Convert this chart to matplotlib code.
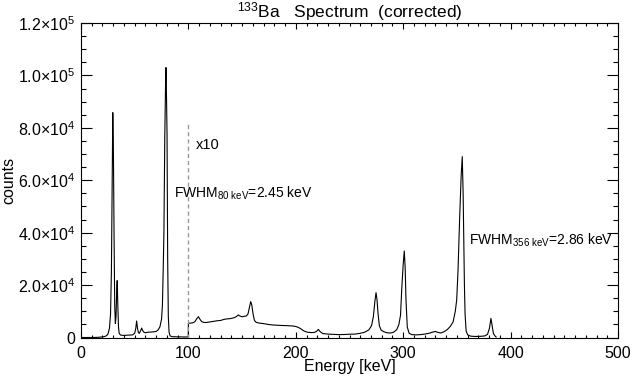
import matplotlib
matplotlib.use("Agg")
import matplotlib.pyplot as plt
from matplotlib.ticker import MultipleLocator, FuncFormatter

plt.rcParams["font.family"] = ["Liberation Sans", "DejaVu Sans"]
plt.rcParams["mathtext.fontset"] = "custom"
plt.rcParams["mathtext.rm"] = "Liberation Sans"
plt.rcParams["mathtext.it"] = "Liberation Sans"
plt.rcParams["mathtext.bf"] = "Liberation Sans"

# spectrum below 100 keV (counts as measured)
energy_low = [0, 5, 10, 15, 18, 21, 23, 25, 26.5, 27.5, 28.3, 29.0, 29.6, 30.2, 30.8,
              31.4, 32.0, 32.6, 33.2, 33.7, 34.3, 34.9, 35.6, 37, 40, 44, 48, 50, 51,
              51.8, 52.6, 53.5, 54.3, 55.5, 56.5, 57.5, 58.6, 60, 62, 66, 70, 72, 73.5,
              75, 75.8, 76.5, 77.2, 78.0, 78.7, 79.1, 79.6, 80.1, 80.7, 81.3, 82.0, 83,
              85, 90, 95, 99.9]
counts_low = [0, 0, 0, 50, 150, 300, 500, 1200, 3500, 9000, 25000, 60000, 85800, 70000,
              38000, 12000, 5400, 8000, 17000, 21700, 12000, 4000, 1500, 900, 800, 900,
              1000, 1600, 3500, 6300, 3500, 1800, 1600, 2600, 3600, 2600, 2000, 1800,
              2000, 2100, 2300, 3000, 4100, 7000, 12400, 25000, 40000, 76000, 96000,
              103000, 92000, 78000, 30000, 8000, 2000, 600, 300, 250, 200, 200]

# spectrum above 100 keV (measured counts, drawn x10)
energy_high = [100, 102, 104, 106, 107.5, 109.3, 111, 112.5, 115, 118, 121, 124, 127,
               130, 133, 136, 139, 141, 143, 145, 146.5, 148, 150, 152, 154, 155.5,
               156.8, 158.0, 159.0, 160.2, 161.5, 163, 166, 170, 174, 178, 182, 186,
               190, 194, 197, 200, 202, 204, 206, 208, 211, 214, 217, 219.5, 221,
               222.5, 225, 230, 235, 240, 245, 250, 255, 260, 264, 268, 270.5, 272.2,
               273.7, 274.7, 275.6, 276.6, 277.8, 279.5, 282, 285, 288, 291, 294, 296,
               297.5, 298.6, 300, 301, 301.8, 302.6, 303.8, 305.5, 308, 312, 316, 320,
               324, 327, 330, 332, 335, 338, 341, 344, 346.5, 348.5, 349.8, 351, 352.6,
               354, 355, 355.8, 356.4, 357.0, 357.6, 358.6, 360, 363, 367, 372, 376,
               378.5, 380.3, 381.7, 382.8, 384, 385.5, 386.5]
counts_high = [540, 550, 560, 600, 700, 795, 680, 600, 570, 580, 600, 620, 640, 650,
               690, 710, 720, 740, 760, 810, 860, 820, 790, 810, 820, 900, 1150, 1370,
               1250, 900, 650, 580, 550, 530, 500, 480, 470, 460, 455, 445, 440, 420,
               390, 350, 290, 240, 200, 190, 190, 240, 310, 230, 150, 130, 120, 110,
               115, 125, 130, 160, 200, 290, 450, 790, 1400, 1710, 1450, 900, 450, 280,
               220, 180, 170, 200, 300, 500, 850, 1810, 2800, 3300, 2700, 1430, 400,
               160, 110, 100, 110, 130, 160, 200, 230, 200, 170, 220, 300, 430, 600,
               1000, 1430, 2500, 4610, 6200, 6900, 5500, 3720, 2000, 900, 250, 100, 50,
               40, 45, 60, 120, 350, 730, 450, 150, 60, 20]
SCALE_HIGH = 10

x10_marker_top = 82400


def sci_fmt(v, pos):
    if v == 0:
        return "0"
    exp = len(str(int(v))) - 1
    return f"{v / 10**exp:.1f}×10$^{{{exp}}}$"


fig = plt.figure(figsize=(6.42, 3.85), dpi=100)
ax = fig.add_axes([81 / 642, 47.5 / 385, 537 / 642, 314.5 / 385])

energy = energy_low + energy_high
counts = counts_low + [c * SCALE_HIGH for c in counts_high]
ax.plot(energy, counts, color="black", linewidth=0.8)
ax.plot([100, 100], [0, x10_marker_top], color="0.6", linewidth=1.0,
        linestyle=(0, (3, 2.2)))

ax.text(107, 73500, "x10", fontsize=10.5, va="center", ha="left")
ax.text(86.5, 55000, r"FWHM$_{80\ \mathrm{keV}}$=2.45 keV", fontsize=10,
        va="center", ha="left")
ax.text(361.5, 37200, r"FWHM$_{356\ \mathrm{keV}}$=2.86 keV", fontsize=10,
        va="center", ha="left")

ax.set_xlim(0, 500)
ax.set_ylim(0, 1.2e5)
ax.xaxis.set_major_locator(MultipleLocator(100))
ax.xaxis.set_minor_locator(MultipleLocator(10))
ax.yaxis.set_major_locator(MultipleLocator(20000))
ax.yaxis.set_minor_locator(MultipleLocator(5000))
ax.yaxis.set_major_formatter(FuncFormatter(sci_fmt))
ax.tick_params(axis="both", which="both", direction="in", top=True, right=True,
               labelsize=11.5, width=0.8)
ax.tick_params(axis="x", which="major", length=4.6, pad=6)
ax.tick_params(axis="x", which="minor", length=2.3)
ax.tick_params(axis="y", which="major", length=7.7, pad=4)
ax.tick_params(axis="y", which="minor", length=3.9)
for s in ax.spines.values():
    s.set_linewidth(0.8)

ax.set_title(r"$^{133}$Ba   Spectrum  (corrected)", fontsize=12.5, pad=3)
ax.set_xlabel("Energy [keV]", fontsize=11.5, labelpad=-1)
ax.set_ylabel("counts", fontsize=11.5, labelpad=1)

fig.savefig("out.png", dpi=100)
